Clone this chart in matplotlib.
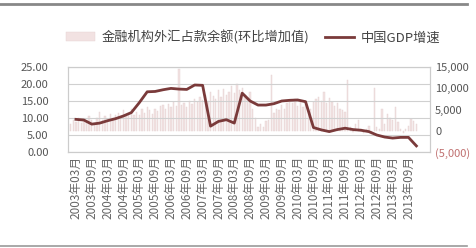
import numpy as np
import matplotlib.pyplot as plt
from matplotlib.ticker import FuncFormatter

plt.rcParams['font.family'] = ['Noto Sans CJK SC', 'DejaVu Sans']

# 外汇占款 月度环比增加值 (亿元), 2003-01 .. 2013-12
fx = [1500, 2500, 2000, 3000, 1800, 2800, 2200, 3500, 2600, 1900, 3000, 4500,
      2500, 3500, 2800, 4000, 3000, 3800, 4200, 3000, 4800, 3500, 4000, 5000,
      3800, 4500, 3600, 5000, 4200, 5500, 4800, 3900, 5200, 4600, 5800, 6000,
      5000, 6200, 5500, 6800, 5800, 14500, 6000, 6500, 5600, 7000, 6200, 7500,
      6800, 8000, 7200, 8500, 7000, 9000, 8200, 7500, 9500, 8000, 9800, 8500,
      9000, 10500, 8800, 11000, 9500, 10000, 8500, 7800, 9000, 5000, 3000, 1000,
      1500, 800, 2200, 2600, 13000, 4200, 5200, 4800, 6000, 5200, 6500, 7200,
      6500, 7500, 5800, 6800, 5500, 6200, 4800, 5200, 6800, 7500, 8000, 7000,
      9000, 6500, 7800, 6800, 5800, 6500, 5200, 4800, 4500, 12000, 800, -300,
      1500, 2500, 500, -600, 300, 1200, -800, 10000, 1000, 500, 5000, 1500,
      4000, 3000, 2500, 5500, 2000, 500, -500, 300, 1200, 2800, 2200, 1500]

# GDP增速 季度 (%)
gdp = [9.6, 9.4, 8.2, 8.5, 9.2, 9.8, 10.6, 11.6, 14.5, 17.7, 17.8, 18.3,
       18.7, 18.5, 18.4, 19.7, 19.6, 7.6, 9.0, 9.5, 8.5, 17.3, 15.0, 13.8,
       13.8, 14.2, 15.0, 15.2, 15.3, 14.8, 7.2, 6.5, 6.0, 6.6, 7.0, 6.6,
       6.4, 6.0, 5.0, 4.4, 4.1, 4.3, 4.3, 1.8]

years = list(range(2003, 2014))
labels = []
for y in years:
    labels.append(f'{y}年03月')
    labels.append(f'{y}年09月')

xm = np.arange(len(fx))
xq = np.arange(len(gdp)) * 3 + 2
xl = np.arange(len(labels)) * 6 + 2

fig = plt.figure(figsize=(4.77, 2.48), dpi=100)
ax = fig.add_axes([0.1426, 0.387, 0.758, 0.343])
ax2 = ax.twinx()

ax.bar(xm, fx, width=0.5, color='#f2e2e2', edgecolor='#e4d2d2', linewidth=0.3,
       label='金融机构外汇占款余额(环比增加值)')
ax.set_ylim(-5000, 15000)
ax.set_yticks([-5000, 0, 5000, 10000, 15000])
ax.yaxis.tick_right()
ax.yaxis.set_label_position('right')


def fmt(v, pos):
    if v < 0:
        return '({:,.0f})'.format(-v)
    return '{:,.0f}'.format(v)


ax.yaxis.set_major_formatter(FuncFormatter(fmt))
for t in ax.get_yticklabels():
    t.set_fontsize(8)
    t.set_color('#555555')
ax.get_yticklabels()[0].set_color('#c07070')

ax2.plot(xq, gdp, color='#7a3a3a', lw=2, label='中国GDP增速')
ax2.set_ylim(0, 25)
ax2.set_yticks([0, 5, 10, 15, 20, 25])
ax2.yaxis.tick_left()
ax2.yaxis.set_major_formatter(FuncFormatter(lambda v, p: f'{v:.2f}'))
ax2.tick_params(axis='y', labelsize=8, labelcolor='#555555', length=0, pad=14)
ax2.grid(axis='y', color='#d0d0d0', lw=0.8)
ax2.set_axisbelow(True)

ax.set_xlim(-1, 136)
ax.set_xticks(xl)
ax.set_xticklabels(labels, rotation=90, fontsize=8.5, color='#666666')
ax.tick_params(axis='x', length=0, pad=3)
ax.tick_params(axis='y', length=0, pad=4)

for a in (ax, ax2):
    for s in a.spines.values():
        s.set_color('#cccccc')
        s.set_linewidth(0.8)

h1, l1 = ax.get_legend_handles_labels()
h2, l2 = ax2.get_legend_handles_labels()
fig.legend(h1 + h2, l1 + l2, loc='center', bbox_to_anchor=(0.53, 0.85), ncol=2,
           frameon=False, fontsize=9.5, handlelength=2.2, columnspacing=1.2,
           handletextpad=0.5, labelcolor='#444444')

fig.add_artist(plt.Line2D([0.0, 0.98], [0.985, 0.985], color='#888888', lw=2))
fig.add_artist(plt.Line2D([0.0, 0.98], [0.01, 0.01], color='#999999', lw=1.2))

fig.savefig('out.png', facecolor='white')
